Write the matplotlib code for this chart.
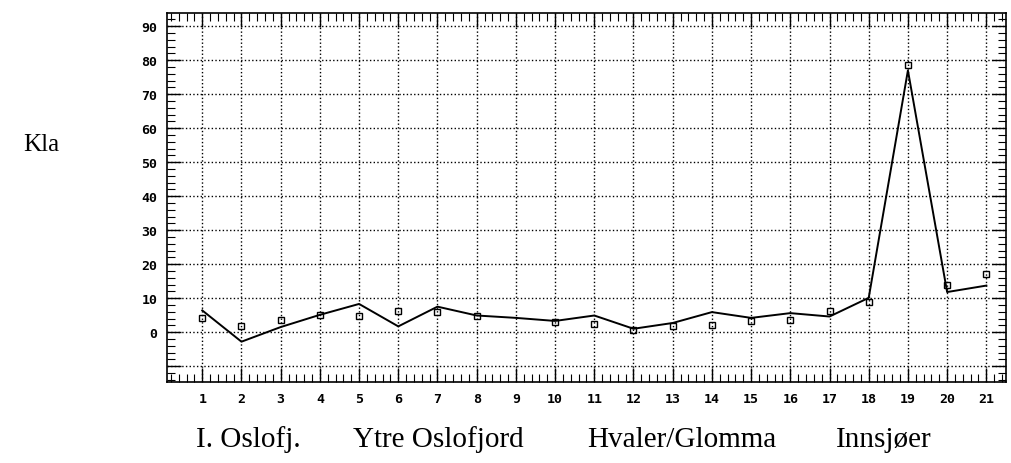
import numpy as np
from matplotlib import pyplot as plt
from matplotlib.ticker import AutoMinorLocator

# stasjoner 1-21
stations = list(range(1, 22))
# linje (modell)
line_vals = [6.4, -2.8, 1.5, 5.1, 8.3, 1.7, 7.5, 4.9, 4.2, 3.3, 4.9,
             1.0, 2.7, 5.9, 4.2, 5.6, 4.6, 10.1, 77.0, 11.8, 13.7]
# målte verdier (firkanter), ingen på stasjon 9
obs_vals = [4.1, 1.8, 3.6, 5.1, 4.9, 6.1, 6.0, 4.9, np.nan, 3.1, 2.4,
            0.7, 1.9, 2.0, 3.3, 3.7, 6.1, 8.8, 78.6, 14.0, 17.1]
y_ticks = list(range(-10, 100, 10))
y_ticklabels = [''] + [str(v) for v in range(0, 100, 10)]
groups = ["I. Oslofj.", "Ytre Oslofjord", "Hvaler/Glomma", "Innsjøer"]
group_x = [248, 438, 682, 884]

fig = plt.figure(figsize=(10.12, 4.64), dpi=100)
ax = fig.add_axes([0.165, 0.175, 0.829, 0.795])

ax.plot(stations, line_vals, color='black', linewidth=1.4)
ax.plot(stations, obs_vals, linestyle='none', marker='s', markersize=5,
        markerfacecolor='none', markeredgecolor='black', markeredgewidth=1.0)

ax.set_xlim(0.1, 21.5)
ax.set_ylim(-14.6, 93.9)
ax.set_xticks(stations)
ax.set_yticks(y_ticks)
ax.set_yticklabels(y_ticklabels)
ax.xaxis.set_minor_locator(AutoMinorLocator(5))
ax.yaxis.set_minor_locator(AutoMinorLocator(5))
ax.tick_params(which='both', direction='in', top=True, right=True)
ax.tick_params(which='major', length=10, width=1, pad=7)
ax.tick_params(which='minor', length=6, width=0.8)
for lab in ax.get_xticklabels() + ax.get_yticklabels():
    lab.set_family('DejaVu Sans Mono')
    lab.set_fontweight('bold')
    lab.set_fontsize(9.5)
ax.grid(True, which='major', linestyle=':', color='black', linewidth=1.0)
for s in ax.spines.values():
    s.set_linewidth(1.2)

fig.text(41 / 1012, 1 - 145 / 464, "Kla", family='Liberation Serif',
         fontsize=18, ha='center', va='center')
for g, gx in zip(groups, group_x):
    fig.text(gx / 1012, 1 - 440 / 464, g, family='Liberation Serif',
             fontsize=21, ha='center', va='center')

plt.savefig("out.png", dpi=100)
